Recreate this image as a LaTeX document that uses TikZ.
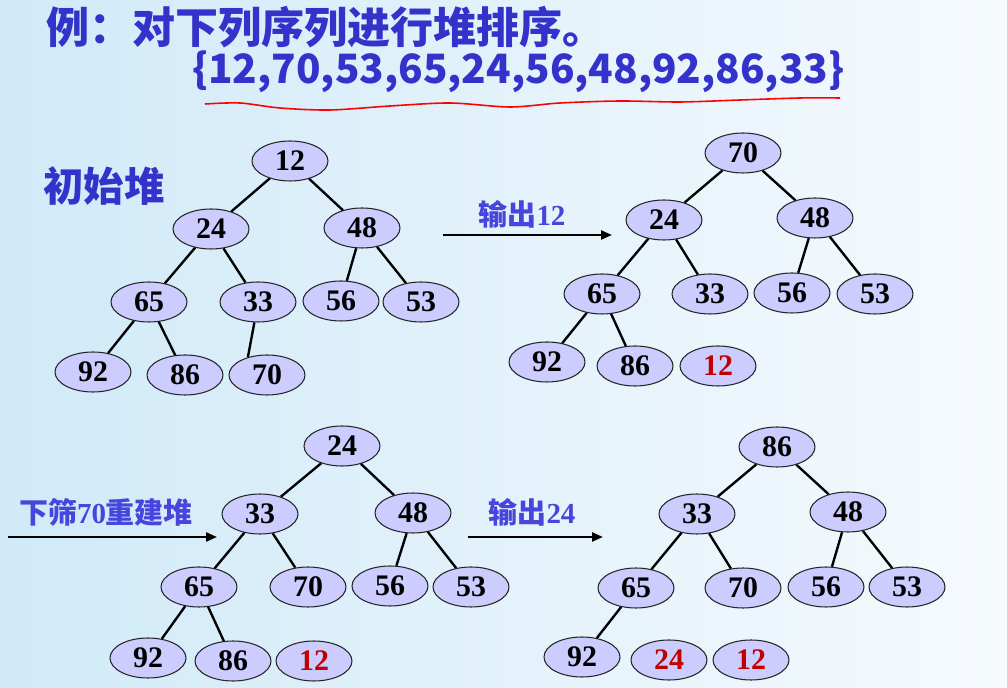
\documentclass[tikz,border=0pt]{standalone}
\usepackage{fontspec}
\setmainfont{Liberation Serif}
\newfontfamily\cjk{Noto Sans CJK SC}
\usetikzlibrary{shapes.geometric,arrows.meta}
\definecolor{heapfill}{RGB}{204,204,255}
\definecolor{titleblue}{RGB}{51,51,204}
\definecolor{stepblue}{RGB}{70,70,220}
\definecolor{outred}{RGB}{190,0,0}
\definecolor{bgleft}{RGB}{208,234,248}
\definecolor{bgright}{RGB}{246,250,253}
\tikzset{
  key/.style={ellipse, draw=black!85, line width=0.6pt, fill=heapfill,
    minimum width=1.52cm, minimum height=0.8cm, inner sep=0pt,
    font=\fontsize{17}{17}\selectfont\bfseries},
  sorted/.style={key, text=outred},
  edge/.style={line width=1.35pt},
  move/.style={line width=1.3pt, -{Triangle[length=2.2mm,width=1.8mm]}},
  caption/.style={text=stepblue, font=\cjk\bfseries\fontsize{16.5}{16.5}\selectfont},
  heading/.style={anchor=west, text=titleblue, font=\cjk\bfseries\fontsize{23}{23}\selectfont}
}
\begin{document}
\begin{tikzpicture}[x=0.02cm, y=-0.02cm]
  \useasboundingbox (0,0) rectangle (1007,688);
  \shade[left color=bgleft, right color=bgright] (0,0) rectangle (1007,688);

  % title
  \node[heading, font=\cjk\bfseries\fontsize{24.5}{24.5}\selectfont] (title) at (40,27) {例：对下列序列进行堆排序。};
  \node[heading] (seq) at (186,72) {\{12,70,53,65,24,56,48,92,86,33\}};
  \draw[red, line width=0.9pt] plot[smooth] coordinates {(205,104) (240,103) (280,108) (330,110) (390,106)
    (450,103) (510,107) (560,103) (620,101) (680,102) (740,100) (800,98) (840,98)};
  \node[heading] (init) at (37,186) {初始堆};

  % initial heap
  \node[key] (a12) at (290,161) {12};
  \node[key] (a24) at (211,229) {24};
  \node[key] (a48) at (362,228) {48};
  \node[key] (a65) at (149,302) {65};
  \node[key] (a33) at (258,302) {33};
  \node[key] (a56) at (341,301) {56};
  \node[key] (a53) at (421,302) {53};
  \node[key] (a92) at (93,372) {92};
  \node[key] (a86) at (185,375) {86};
  \node[key] (a70) at (267,375) {70};
  \draw[edge] (a12) -- (a24);
  \draw[edge] (a12) -- (a48);
  \draw[edge] (a24) -- (a65);
  \draw[edge] (a24) -- (a33);
  \draw[edge] (a48) -- (a56);
  \draw[edge] (a48) -- (a53);
  \draw[edge] (a65) -- (a92);
  \draw[edge] (a65) -- (a86);
  \draw[edge] (a33.260) -- (a70.137);

  % output 12
  \coordinate (s1) at (443,235);
  \coordinate (e1) at (612,235);
  \draw[move] (s1) -- (e1);
  \node[caption] (m1) at (522,214) {输出{\rmfamily 12}};

  \node[key] (b70) at (743,153) {70};
  \node[key] (b24) at (664,220) {24};
  \node[key] (b48) at (815,218) {48};
  \node[key] (b65) at (602,294) {65};
  \node[key] (b33) at (710,294) {33};
  \node[key] (b56) at (792,293) {56};
  \node[key] (b53) at (875,294) {53};
  \node[key] (b92) at (547,362) {92};
  \node[key] (b86) at (635,366) {86};
  \node[sorted] (b12) at (718,366) {12};
  \draw[edge] (b70) -- (b24);
  \draw[edge] (b70) -- (b48);
  \draw[edge] (b24) -- (b65);
  \draw[edge] (b24) -- (b33);
  \draw[edge] (b48) -- (b56);
  \draw[edge] (b48) -- (b53);
  \draw[edge] (b65) -- (b92);
  \draw[edge] (b65) -- (b86);

  % sift down 70
  \coordinate (s2) at (8,537);
  \coordinate (e2) at (217,537);
  \draw[move] (s2) -- (e2);
  \node[caption] (m2) at (106,512) {下筛{\rmfamily 70}重建堆};

  \node[key] (c24) at (342,446) {24};
  \node[key] (c33) at (260,514) {33};
  \node[key] (c48) at (413,513) {48};
  \node[key] (c65) at (199,587) {65};
  \node[key] (c70) at (308,587) {70};
  \node[key] (c56) at (390,586) {56};
  \node[key] (c53) at (471,587) {53};
  \node[key] (c92) at (148,658) {92};
  \node[key] (c86) at (233,661) {86};
  \node[sorted] (c12) at (314,661) {12};
  \draw[edge] (c24) -- (c33);
  \draw[edge] (c24) -- (c48);
  \draw[edge] (c33) -- (c65);
  \draw[edge] (c33) -- (c70);
  \draw[edge] (c48) -- (c56);
  \draw[edge] (c48) -- (c53);
  \draw[edge] (c65) -- (c92);
  \draw[edge] (c65) -- (c86);

  % output 24
  \coordinate (s3) at (468,537);
  \coordinate (e3) at (603,537);
  \draw[move] (s3) -- (e3);
  \node[caption] (m3) at (532,512) {输出{\rmfamily 24}};

  \node[key] (d86) at (777,447) {86};
  \node[key] (d33) at (697,514) {33};
  \node[key] (d48) at (848,512) {48};
  \node[key] (d65) at (636,588) {65};
  \node[key] (d70) at (743,588) {70};
  \node[key] (d56) at (826,587) {56};
  \node[key] (d53) at (907,587) {53};
  \node[key] (d92) at (582,657) {92};
  \node[sorted] (d24) at (669,660) {24};
  \node[sorted] (d12) at (751,660) {12};
  \draw[edge] (d86) -- (d33);
  \draw[edge] (d86) -- (d48);
  \draw[edge] (d33) -- (d65);
  \draw[edge] (d33) -- (d70);
  \draw[edge] (d48) -- (d56);
  \draw[edge] (d48) -- (d53);
  \draw[edge] (d65) -- (d92);
\end{tikzpicture}
\end{document}
